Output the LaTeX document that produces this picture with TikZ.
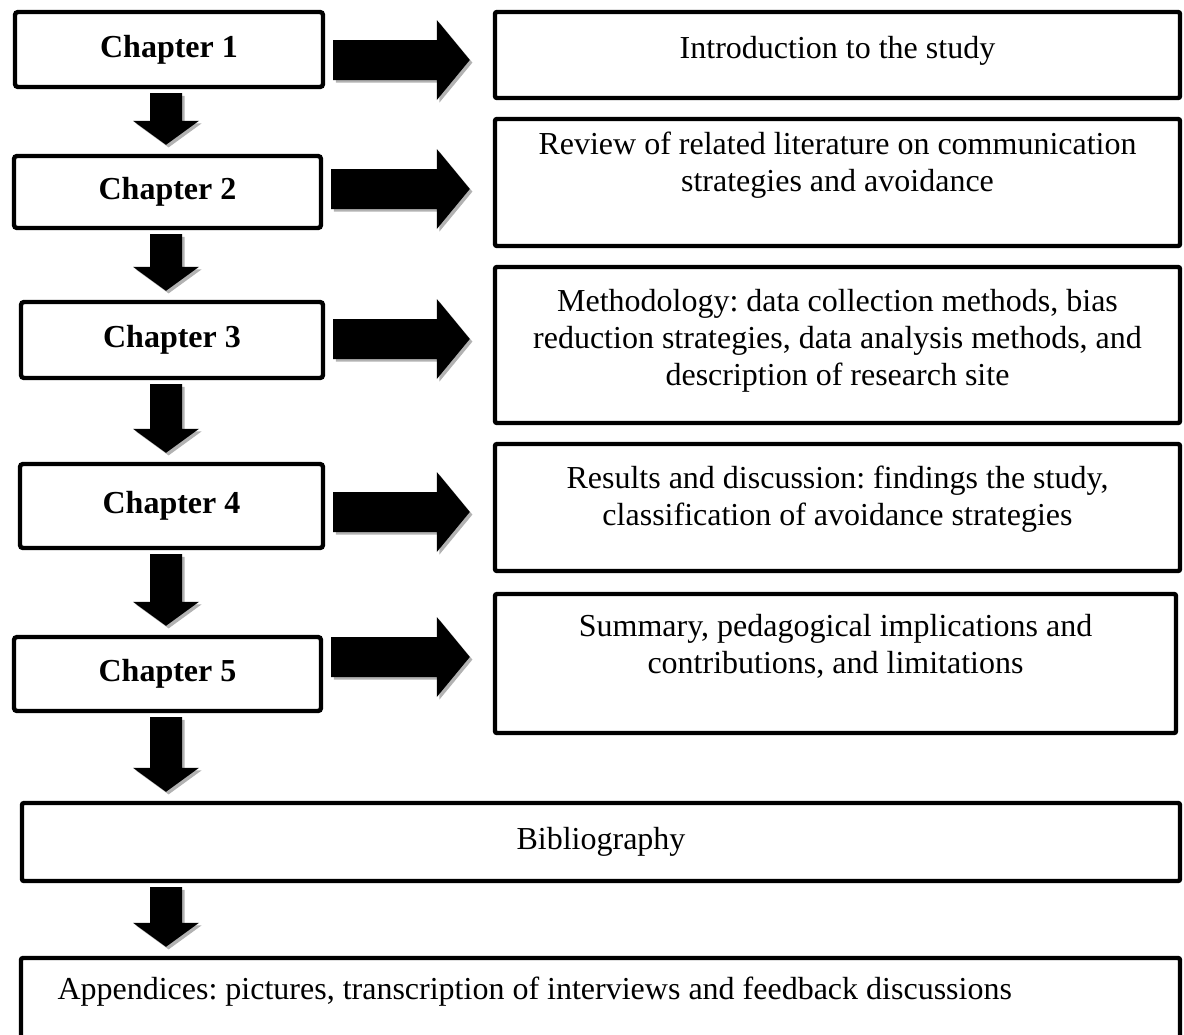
\documentclass[tikz,border=0pt]{standalone}
\usepackage{fontspec}
\setmainfont{Liberation Serif}
\frenchspacing
\usetikzlibrary{calc,shadows}

% fat arrow to the right, from #1 to #2, moved down by #3
\newcommand{\rarrow}[3]{%
\fill [blockarrow] let \p1=($(#1.east)+(0,#3)$), \p2=(#2.west) in
  (\x1+4pt,\y1+10pt) -- (\x2-28pt,\y1+10pt) -- (\x2-28pt,\y1+20pt) -- (\x2-11.5pt,\y1)
  -- (\x2-28pt,\y1-20pt) -- (\x2-28pt,\y1-10pt) -- (\x1+4pt,\y1-10pt) -- cycle;}

% fat arrow down, from #1 to #2, along the line through #3
\newcommand{\darrow}[3]{%
\fill [blockarrow] let \p1=(#1.south -| #3), \p2=(#2.north -| #3) in
  (\x1-8pt,\y1-2pt) -- (\x1-8pt,\y2+16.5pt) -- (\x1-16.5pt,\y2+16.5pt) -- (\x1,\y2+4.5pt)
  -- (\x1+16.5pt,\y2+16.5pt) -- (\x1+8pt,\y2+16.5pt) -- (\x1+8pt,\y1-2pt) -- cycle;}

\begin{document}
\begin{tikzpicture}[x=0.5pt,y=-0.5pt,
  txt/.style={font=\fontsize{16}{18.5}\selectfont},
  chbox/.style={draw, line width=2.2pt, rounded corners=1.5pt, minimum width=154pt,
    font=\fontsize{16}{18.5}\selectfont\bfseries},
  rbox/.style={draw, line width=2.2pt, rounded corners=1pt, minimum width=342.5pt},
  rtext/.style={txt, anchor=north, yshift=-12pt, align=center, inner sep=0pt},
  blockarrow/.style={fill=black,
    drop shadow={shadow xshift=1.3pt, shadow yshift=-1.3pt, fill=gray!60, opacity=1}}]

\useasboundingbox (0,0) rectangle (1184,1034);
\coordinate (spine) at (166,0);

% chapters
\node [chbox, minimum height=37.5pt] (c1) at (169,49.5) {Chapter 1};
\node [chbox, minimum height=36pt, minimum width=153.5pt] (c2) at (167.5,192) {Chapter 2};
\node [chbox, minimum height=38pt, minimum width=151pt] (c3) at (172,340) {Chapter 3};
\node [chbox, minimum height=42pt, minimum width=151.5pt] (c4) at (171.5,506) {Chapter 4};
\node [chbox, minimum height=37pt, minimum width=153.5pt] (c5) at (167.5,674) {Chapter 5};

% contents
\node [rbox, minimum height=43pt,
  label={[rtext, yshift=-1pt]north:{Introduction to the study}}] (r1) at (837.5,55) {};
\node [rbox, minimum height=63.5pt,
  label={[rtext, yshift=4.5pt]north:{Review of related literature on communication\\strategies and avoidance}}] (r2) at (837.5,182.5) {};
\node [rbox, minimum height=78pt,
  label={[rtext]north:{Methodology: data collection methods, bias\\reduction strategies, data analysis methods, and\\description of research site}}] (r3) at (837.5,345) {};
\node [rbox, minimum height=63.5pt,
  label={[rtext]north:{Results and discussion: findings the study,\\classification of avoidance strategies}}] (r4) at (837.5,507.5) {};
\node [rbox, minimum height=69.5pt, minimum width=340.5pt,
  label={[rtext, yshift=1pt]north:{Summary, pedagogical implications and\\contributions, and limitations}}] (r5) at (835.5,663.5) {};

\node [rbox, txt, minimum width=579pt, minimum height=39pt] (bib) at (601,842) {Bibliography};
\node [rbox, minimum width=579.5pt, minimum height=50pt,
  label={[rtext, text width=543pt, align=flush left, yshift=1.5pt]north:{Appendices: pictures, transcription of interviews and feedback discussions}}] (app) at (600.5,1008) {};

% arrows
\rarrow{c1}{r1}{10.5}
\rarrow{c2}{r2}{-3}
\rarrow{c3}{r3}{-1}
\rarrow{c4}{r4}{6}
\rarrow{c5}{r5}{-17}

\darrow{c1}{c2}{spine}
\darrow{c2}{c3}{spine}
\darrow{c3}{c4}{spine}
\darrow{c4}{c5}{spine}
\darrow{c5}{bib}{spine}
\darrow{bib}{app}{spine}

\end{tikzpicture}
\end{document}
